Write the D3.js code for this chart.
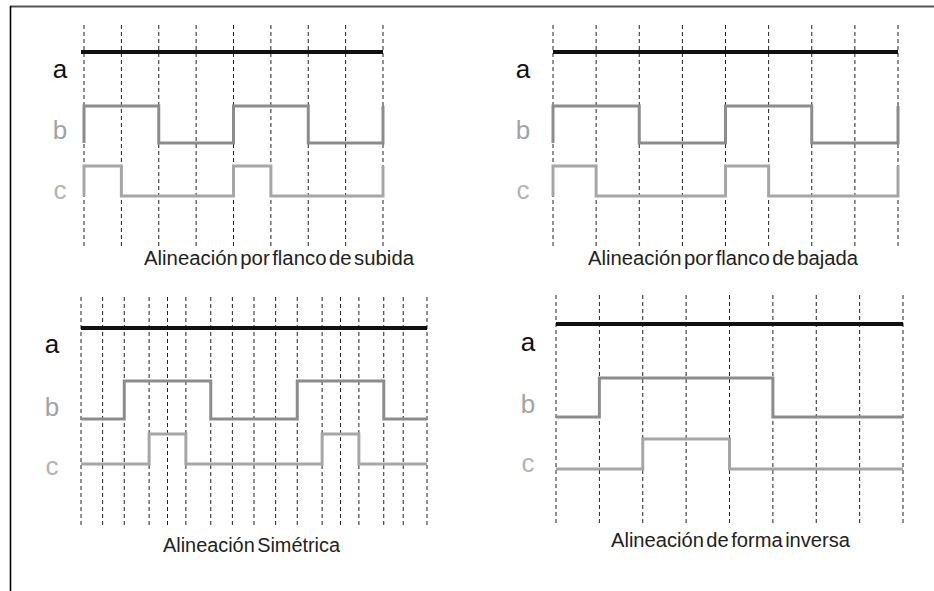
<!DOCTYPE html>
<html><head><meta charset="utf-8">
<script src="https://cdn.jsdelivr.net/npm/d3@7"></script>
<style>html,body{margin:0;padding:0;background:#fff;}svg{display:block;}</style>
</head><body>
<svg id="c" width="934" height="591"></svg>
<script>
// ---- data ----
const titles = ["Alineación por flanco de subida", "Alineación por flanco de bajada", "Alineación Simétrica", "Alineación de forma inversa"];
const signalNames = ["a", "b", "c"];
const gridShort = [0, 1, 2, 3, 4, 5, 6, 7, 8];
const gridSym = [0, 1, 2, 3.15, 4, 4.85, 6, 7, 8, 9, 10, 11.15, 12, 12.85, 14, 14.9, 16];
// edges (times where level toggles), starting level 0
const bRise = [0, 2, 4, 6, 8];
const cRise = [0, 1, 4, 5, 8];
const bFall = [0, 2, 4, 6, 8];
const cFall = [0, 1, 4, 5, 8];
const bSym = [2, 6, 10, 14];
const cSym = [3.15, 4.85, 11.15, 12.85];
const bInv = [1, 5];
const cInv = [2, 4];

// ---- layout ----
const panels = [
  {title: titles[0], grid: gridShort, b: bRise, c: cRise, x: [84, 383], aX0: 81, aY: 52, b01: [143, 106], c01: [196, 166], dash: [25, 248], labX: 60, labY: [78, 139, 199], titleX: 144, titleY: 265, titleW: 270},
  {title: titles[1], grid: gridShort, b: bFall, c: cFall, x: [553, 898], aX0: 553, aY: 52, b01: [143, 106], c01: [196, 166], dash: [25, 248], labX: 523, labY: [78, 139, 199], titleX: 588, titleY: 265, titleW: 270},
  {title: titles[2], grid: gridSym, b: bSym, c: cSym, x: [81, 427], aX0: 81, aY: 328, b01: [419, 381], c01: [464, 434], dash: [297, 525], labX: 52, labY: [353, 416, 475], titleX: 163, titleY: 552, titleW: 177},
  {title: titles[3], grid: gridShort, b: bInv, c: cInv, x: [556, 903], aX0: 556, aY: 324, b01: [417, 378], c01: [469, 439], dash: [295, 523], labX: 528, labY: [351, 413, 472], titleX: 611, titleY: 547, titleW: 239}
];

const svg = d3.select("#c");
// frame
svg.append("line").attr("x1", 10).attr("x2", 934).attr("y1", 6.5).attr("y2", 6.5).attr("stroke", "#555").attr("stroke-width", 2);
svg.append("line").attr("x1", 10.5).attr("x2", 10.5).attr("y1", 6).attr("y2", 591).attr("stroke", "#000").attr("stroke-width", 1.6);

function stepPoints(edges, t0, t1) {
  const pts = [];
  let lvl = 0;
  pts.push([t0, 0]);
  edges.forEach(e => {
    pts.push([e, lvl]);
    lvl = 1 - lvl;
    pts.push([e, lvl]);
  });
  const last = pts[pts.length - 1];
  if (last[0] < t1) pts.push([t1, lvl]);
  return pts;
}

panels.forEach(p => {
  const g = svg.append("g");
  const t0 = p.grid[0], t1 = p.grid[p.grid.length - 1];
  const x = d3.scaleLinear().domain([t0, t1]).range(p.x);
  const yb = d3.scaleLinear().domain([0, 1]).range(p.b01);
  const yc = d3.scaleLinear().domain([0, 1]).range(p.c01);

  // dashed grid
  g.selectAll("line.grid").data(p.grid).join("line")
    .attr("x1", d => x(d)).attr("x2", d => x(d))
    .attr("y1", p.dash[0]).attr("y2", p.dash[1])
    .attr("stroke", "#222").attr("stroke-width", 1)
    .attr("stroke-dasharray", "4,3");

  // a line
  g.append("line").attr("x1", p.aX0).attr("x2", x(t1))
    .attr("y1", p.aY).attr("y2", p.aY)
    .attr("stroke", "#111").attr("stroke-width", 4);

  const lb = d3.line().x(d => x(d[0])).y(d => yb(d[1]));
  const lc = d3.line().x(d => x(d[0])).y(d => yc(d[1]));
  g.append("path").attr("d", lb(stepPoints(p.b, t0, t1)))
    .attr("fill", "none").attr("stroke", "#8c8c8c").attr("stroke-width", 3);
  g.append("path").attr("d", lc(stepPoints(p.c, t0, t1)))
    .attr("fill", "none").attr("stroke", "#a6a6a6").attr("stroke-width", 3);

  // labels
  const labColors = ["#111", "#a3a3a3", "#b3b3b3"];
  signalNames.forEach((n, i) => {
    g.append("text").attr("x", p.labX).attr("y", p.labY[i])
      .attr("text-anchor", "middle")
      .attr("font-family", "'Liberation Sans', Arial, sans-serif")
      .attr("font-size", 26).attr("fill", labColors[i]).text(n);
  });

  g.append("text").attr("x", p.titleX).attr("y", p.titleY)
    .attr("font-family", "'Liberation Sans', Arial, sans-serif")
    .attr("font-size", 19.5).attr("fill", "#222")
    .attr("word-spacing", -3)
    .attr("textLength", p.titleW).attr("lengthAdjust", "spacingAndGlyphs")
    .text(p.title);
});
</script>
</body></html>
